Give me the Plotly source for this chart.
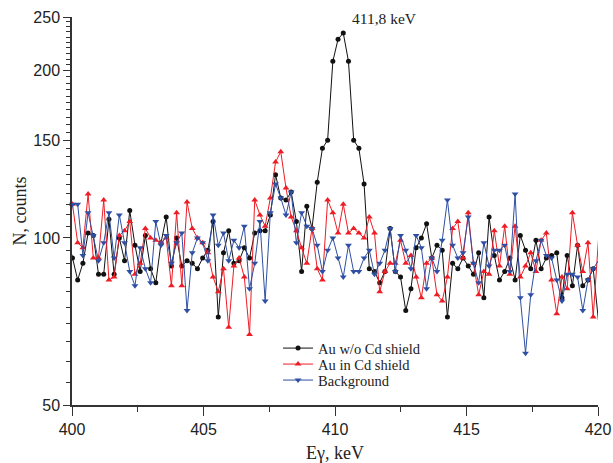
import plotly.graph_objects as go

# Channel calibration (energy of each channel, keV)
E0 = 399.82
GAIN = 0.198
channels = list(range(103))
energy = [E0 + GAIN * c for c in channels]

au_no_cd = [101, 92, 84, 90, 102, 101, 86, 86, 108, 86,
            100, 91, 112, 97, 87, 101, 88, 83, 98, 109,
            89, 100, 89, 91, 90, 88, 92, 95, 107, 72,
            94, 103, 90, 91, 96, 92, 102, 103, 103, 110,
            130, 118, 117, 121, 107, 87, 114, 104, 126, 145,
            150, 208, 228, 234, 208, 150, 145, 125, 88, 87,
            83, 87, 104, 87, 85, 74, 81, 96, 100, 106,
            92, 97, 95, 72, 90, 88, 92, 89, 86, 94,
            78, 109, 93, 84, 87, 92, 84, 101, 95, 88,
            99, 88, 92, 93, 94, 78, 93, 82, 97, 82,
            84, 88, 71]

au_in_cd = [110, 115, 98, 96, 120, 92, 92, 117, 84, 85,
            101, 103, 107, 86, 90, 104, 100, 99, 98, 100,
            82, 111, 82, 116, 104, 100, 98, 94, 85, 80,
            88, 69, 89, 92, 85, 67, 117, 110, 105, 118,
            137, 143, 123, 109, 103, 96, 90, 104, 88, 84,
            117, 111, 102, 115, 102, 104, 102, 100, 109, 102,
            80, 87, 90, 90, 99, 90, 93, 85, 78, 90,
            92, 79, 77, 85, 104, 107, 92, 111, 90, 79,
            87, 86, 103, 89, 105, 86, 105, 85, 89, 94,
            87, 99, 102, 84, 73, 85, 81, 111, 97, 87,
            98, 72, 99]

background = [100, 115, 115, 93, 111, 101, 91, 98, 111, 92,
              110, 98, 87, 82, 96, 88, 83, 107, 97, 101,
              90, 98, 102, 74, 94, 100, 98, 91, 110, 97,
              102, 91, 99, 96, 105, 81, 90, 107, 77, 111,
              125, 118, 110, 121, 98, 111, 105, 104, 97, 87,
              95, 100, 92, 85, 97, 87, 87, 92, 95, 86,
              90, 95, 104, 87, 101, 95, 88, 101, 96, 81,
              92, 87, 99, 117, 97, 92, 94, 109, 90, 83,
              98, 89, 95, 95, 97, 87, 120, 78, 62, 79,
              91, 99, 93, 92, 84, 77, 86, 86, 85, 74,
              84, 88, 91]

names = ["Au w/o Cd shield", "Au in Cd shield", "Background"]
colors = ["#111111", "#ee1c24", "#2e4fa3"]
symbols = ["circle", "triangle-up", "triangle-down"]
sizes = [5, 6, 6]
legend_ids = ["legend", "legend2", "legend3"]
legend_y = [0.1465, 0.1053, 0.0641]

y_major = [50, 100, 150, 200, 250]
y_minor = [v for v in range(55, 250, 5) if v not in y_major]
x_major = [400, 405, 410, 415, 420]

serif = "Liberation Serif"
sans = "Liberation Sans"

fig = go.Figure()
for vals, nm, col, sym, sz, lg in zip([au_no_cd, au_in_cd, background], names, colors,
                                      symbols, sizes, legend_ids):
    fig.add_trace(go.Scatter(
        x=energy, y=vals, name=nm, mode="lines+markers", legend=lg,
        line=dict(color=col, width=1),
        marker=dict(color=col, symbol=sym, size=sz, line=dict(width=0)),
        cliponaxis=False,
    ))

fig.add_annotation(x=411.9, y=0.997, xref="x", yref="paper", text="411,8 keV",
                   showarrow=False, font=dict(family=serif, size=15.5, color="#222"),
                   xanchor="center", yanchor="middle")

legend_style = dict(x=0.3917, xanchor="left", yanchor="middle",
                    font=dict(family=serif, size=14.5, color="#222"),
                    bgcolor="rgba(0,0,0,0)", borderwidth=0, itemwidth=30)

fig.update_layout(
    template="none",
    width=613, height=463,
    margin=dict(l=72, r=15, t=17, b=58, autoexpand=False),
    paper_bgcolor="white", plot_bgcolor="white",
    showlegend=True,
    legend=dict(y=legend_y[0], **legend_style),
    legend2=dict(y=legend_y[1], **legend_style),
    legend3=dict(y=legend_y[2], **legend_style),
    xaxis=dict(
        automargin=False,
        range=[400, 420], tickvals=x_major, ticktext=[str(v) for v in x_major],
        ticks="outside", ticklen=9, tickwidth=1.3, tickcolor="#333",
        showline=True, linecolor="#333", linewidth=1.5, showgrid=False, zeroline=False,
        tickfont=dict(family=sans, size=16, color="#222"),
        minor=dict(tickvals=[402.5, 407.5, 412.5, 417.5], ticks="outside", ticklen=5,
                   tickwidth=1.3, tickcolor="#333", showgrid=False),
        title=dict(text="Eγ, keV", font=dict(family=serif, size=18, color="#222"), standoff=11),
    ),
    yaxis=dict(
        automargin=False,
        type="log", range=[1.69897, 2.39794],
        tickvals=y_major, ticktext=[str(v) for v in y_major],
        ticks="outside", ticklen=7, tickwidth=1.3, tickcolor="#333",
        showline=True, linecolor="#333", linewidth=1.5, showgrid=False, zeroline=False,
        tickfont=dict(family=sans, size=16, color="#222"),
        minor=dict(tickvals=y_minor, ticks="outside", ticklen=4, tickwidth=1,
                   tickcolor="#333", showgrid=False),
        title=dict(text="N, counts", font=dict(family=serif, size=18, color="#222"), standoff=2),
    ),
)

fig.write_html("out.html")
